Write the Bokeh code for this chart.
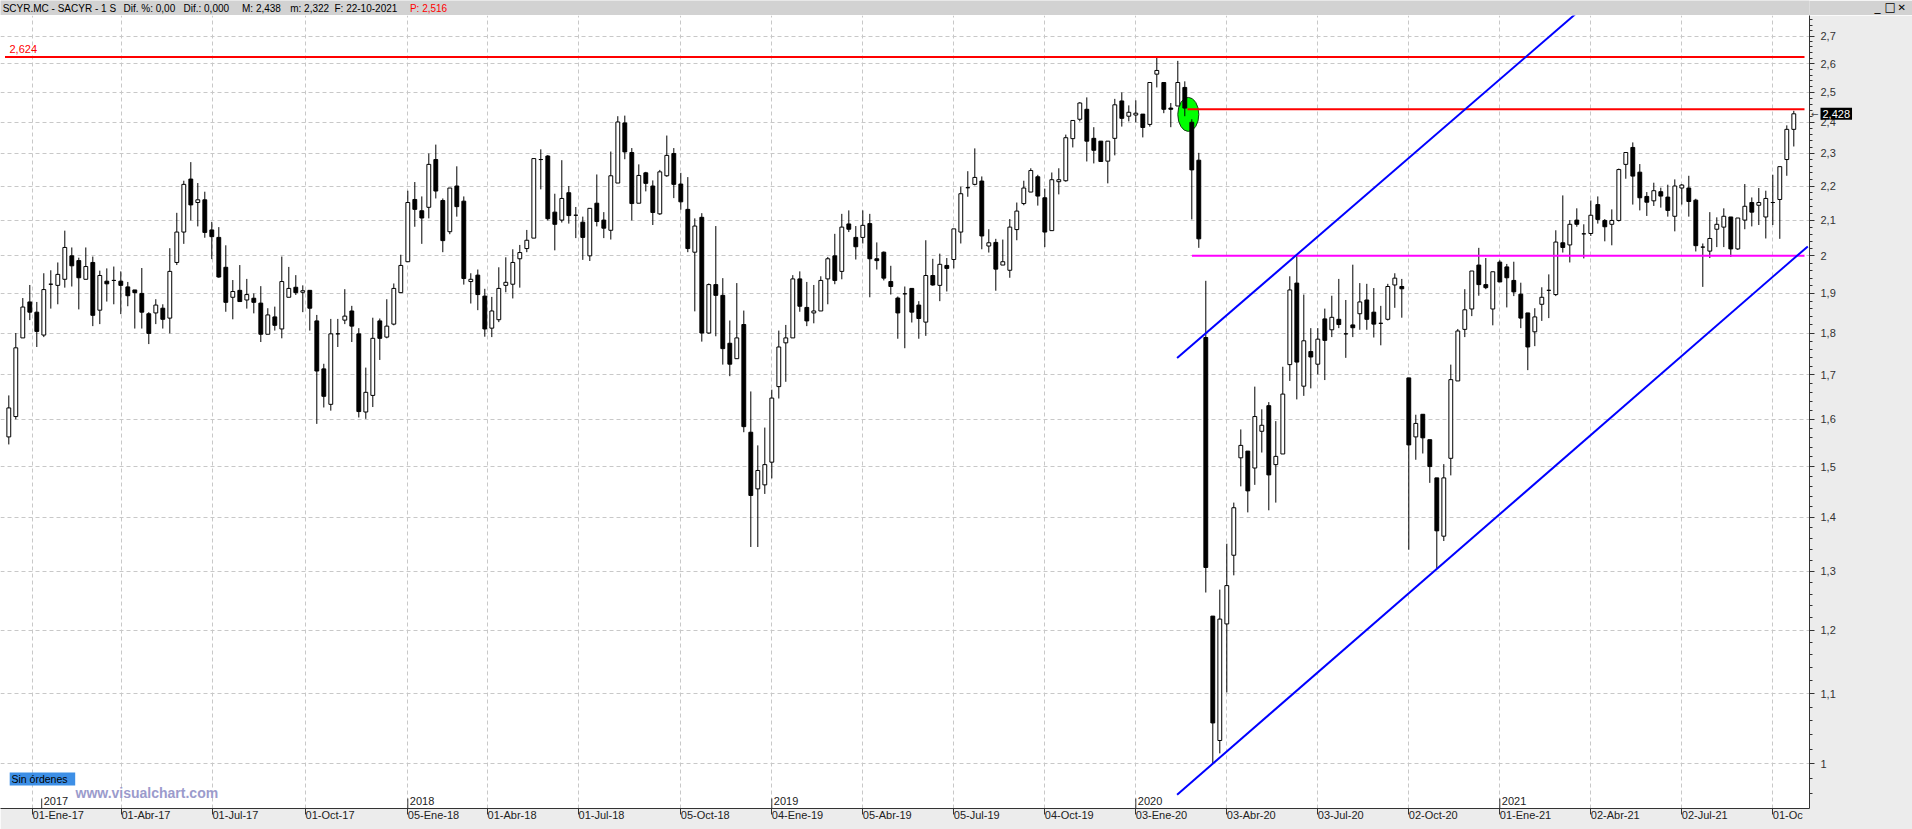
import math
from bokeh.plotting import figure
from bokeh.layouts import column
from bokeh.models import Range1d, FixedTicker, CustomJSTickFormatter, Label, ColumnDataSource
from bokeh.core.properties import value
from bokeh.embed import file_html
from bokeh.resources import INLINE

# ---------------- data (weekly candles, SACYR) ----------------
open_ = [1.562, 1.606, 1.788, 1.878, 1.852, 1.795, 1.924, 1.921, 1.937, 2.0,
         1.987, 1.937, 1.982, 1.857, 1.932, 1.934, 1.932, 1.917, 1.909, 1.90,
         1.848, 1.85, 1.862, 1.837, 1.982, 2.066, 2.221, 2.151, 2.159, 2.072,
         2.051, 1.969, 1.89, 1.908, 1.883, 1.8875, 1.875, 1.797, 1.84, 1.81,
         1.89, 1.916, 1.903, 1.908, 1.83, 1.714, 1.633, 1.798, 1.832, 1.855,
         1.798, 1.616, 1.653, 1.83, 1.79, 1.822, 1.902, 1.984, 2.16, 2.127,
         2.137, 2.281, 2.157, 2.067, 2.2, 2.155, 1.931, 1.948, 1.893, 1.812,
         1.833, 1.921, 1.924, 1.992, 2.02, 2.049, 2.281, 2.292, 2.123, 2.1,
         2.18, 2.114, 2.094, 2.0, 2.149, 2.1, 2.071, 2.209, 2.398, 2.303,
         2.149, 2.24, 2.2, 2.118, 2.231, 2.3, 2.206, 2.131, 2.01, 2.108,
         1.80, 1.923, 1.895, 1.775, 1.738, 1.821, 1.572, 1.455, 1.463, 1.509,
         1.673, 1.776, 1.788, 1.938, 1.864, 1.85, 1.855, 1.938, 2.0, 1.958,
         2.089, 2.051, 2.051, 2.09, 1.992, 2.01, 1.931, 1.888, 1.899, 1.913,
         1.87, 1.827, 1.947, 1.921, 1.974, 1.99, 2.066, 2.195, 2.205, 2.215,
         2.027, 2.037, 1.975, 1.961, 2.073, 2.148, 2.182, 2.228, 2.165, 2.07,
         2.213, 2.216, 2.347, 2.41, 2.443, 2.348, 2.339, 2.276, 2.348, 2.471,
         2.42, 2.424, 2.427, 2.393, 2.563, 2.534, 2.447, 2.454, 2.517, 2.40,
         2.279, 1.789, 1.223, 1.032, 1.21, 1.329, 1.518, 1.532, 1.497, 1.574,
         1.630, 1.504, 1.526, 1.724, 1.927, 1.674, 1.755, 1.725, 1.835, 1.808,
         1.834, 1.798, 1.82, 1.848, 1.883, 1.852, 1.824, 1.834, 1.922, 1.918,
         1.693, 1.562, 1.611, 1.556, 1.477, 1.364, 1.517, 1.686, 1.809, 1.86,
         1.975, 1.923, 1.86, 1.983, 1.97, 1.934, 1.898, 1.85, 1.803, 1.872,
         1.908, 1.897, 2.036, 2.03, 2.10, 2.061, 2.062, 2.145, 2.099, 2.088,
         2.099, 2.266, 2.319, 2.242, 2.169, 2.156, 2.183, 2.167, 2.111, 2.194,
         2.194, 2.158, 2.024, 2.013, 2.074, 2.08, 2.109, 2.019, 2.10, 2.151,
         2.143, 2.109, 2.151, 2.16, 2.281, 2.377]
high = [1.653, 1.80, 1.888, 1.922, 1.878, 1.953, 1.961, 1.982, 2.07, 2.023,
        1.995, 2.023, 1.998, 1.96, 1.966, 1.971, 1.958, 1.93, 1.909, 1.967,
        1.852, 1.885, 1.872, 2.021, 2.121, 2.216, 2.273, 2.209, 2.183, 2.095,
        2.08, 2.029, 1.935, 1.975, 1.938, 1.9, 1.919, 1.862, 1.866, 1.998,
        1.97, 1.948, 1.921, 1.908, 1.845, 1.726, 1.835, 1.835, 1.911, 1.868,
        1.812, 1.717, 1.838, 1.836, 1.885, 1.926, 2.003, 2.186, 2.212, 2.169,
        2.30, 2.328, 2.163, 2.194, 2.26, 2.169, 1.953, 1.963, 1.912, 1.891,
        1.969, 1.996, 2.018, 2.03, 2.072, 2.284, 2.313, 2.295, 2.177, 2.279,
        2.2, 2.138, 2.11, 2.134, 2.235, 2.123, 2.306, 2.42, 2.422, 2.317,
        2.266, 2.243, 2.217, 2.249, 2.357, 2.317, 2.24, 2.227, 2.105, 2.12,
        1.926, 2.083, 1.94, 1.831, 1.927, 1.856, 1.662, 1.544, 1.582, 1.666,
        1.806, 1.82, 1.948, 1.958, 1.93, 1.922, 1.945, 1.997, 2.061, 2.118,
        2.128, 2.083, 2.128, 2.118, 2.037, 2.012, 1.973, 1.892, 1.918, 1.913,
        1.88, 2.043, 1.992, 2.006, 1.994, 2.075, 2.198, 2.245, 2.316, 2.229,
        2.074, 2.047, 2.045, 2.103, 2.151, 2.216, 2.254, 2.234, 2.192, 2.241,
        2.254, 2.36, 2.406, 2.467, 2.483, 2.384, 2.339, 2.339, 2.478, 2.50,
        2.456, 2.473, 2.427, 2.534, 2.622, 2.534, 2.464, 2.61, 2.538, 2.41,
        2.302, 1.933, 1.223, 1.268, 1.35, 1.428, 1.578, 1.532, 1.673, 1.622,
        1.638, 1.596, 1.719, 1.945, 2.002, 1.897, 1.812, 1.812, 1.861, 1.894,
        1.938, 1.883, 1.976, 1.927, 1.925, 1.914, 1.868, 1.925, 1.953, 1.938,
        1.693, 1.61, 1.611, 1.556, 1.477, 1.505, 1.724, 1.81, 1.911, 1.959,
        2.022, 1.994, 1.957, 1.988, 1.978, 1.984, 1.928, 1.85, 1.862, 1.916,
        1.95, 2.071, 2.172, 2.10, 2.134, 2.088, 2.157, 2.169, 2.103, 2.131,
        2.253, 2.303, 2.335, 2.267, 2.182, 2.21, 2.195, 2.204, 2.22, 2.206,
        2.231, 2.162, 2.034, 2.123, 2.108, 2.134, 2.109, 2.106, 2.206, 2.166,
        2.194, 2.186, 2.234, 2.259, 2.39, 2.438]
low = [1.546, 1.60, 1.788, 1.832, 1.766, 1.79, 1.861, 1.872, 1.915, 1.918,
       1.859, 1.937, 1.817, 1.822, 1.879, 1.872, 1.847, 1.867, 1.811, 1.811,
       1.773, 1.822, 1.811, 1.799, 1.975, 2.033, 2.099, 2.082, 2.05, 1.991,
       1.941, 1.853, 1.834, 1.879, 1.861, 1.849, 1.778, 1.797, 1.806, 1.787,
       1.89, 1.896, 1.852, 1.806, 1.59, 1.626, 1.619, 1.766, 1.822, 1.778,
       1.604, 1.601, 1.627, 1.735, 1.787, 1.819, 1.902, 1.984, 2.081, 2.033,
       2.105, 2.163, 2.01, 2.06, 2.11, 1.923, 1.874, 1.857, 1.791, 1.79,
       1.827, 1.903, 1.887, 1.915, 2.01, 2.049, 2.19, 2.099, 2.015, 2.093,
       2.09, 2.049, 1.989, 1.986, 2.082, 2.049, 2.045, 2.209, 2.282, 2.099,
       2.149, 2.184, 2.086, 2.115, 2.228, 2.164, 2.13, 2.01, 1.854, 1.779,
       1.798, 1.792, 1.724, 1.697, 1.738, 1.572, 1.344, 1.344, 1.445, 1.476,
       1.646, 1.684, 1.788, 1.853, 1.817, 1.824, 1.855, 1.872, 1.924, 1.937,
       2.066, 1.99, 2.034, 1.89, 1.963, 1.934, 1.897, 1.786, 1.763, 1.826,
       1.786, 1.793, 1.92, 1.88, 1.905, 1.966, 2.034, 2.168, 2.202, 2.018,
       2.009, 1.907, 1.975, 1.941, 2.043, 2.143, 2.182, 2.142, 2.024, 2.07,
       2.175, 2.213, 2.319, 2.403, 2.275, 2.269, 2.275, 2.208, 2.294, 2.386,
       2.403, 2.40, 2.351, 2.386, 2.517, 2.43, 2.384, 2.454, 2.42, 2.102,
       2.022, 1.263, 1.0, 1.014, 1.102, 1.293, 1.46, 1.409, 1.463, 1.529,
       1.413, 1.428, 1.526, 1.686, 1.644, 1.652, 1.669, 1.701, 1.688, 1.79,
       1.812, 1.74, 1.79, 1.808, 1.808, 1.789, 1.77, 1.831, 1.863, 1.838,
       1.339, 1.514, 1.527, 1.467, 1.306, 1.355, 1.482, 1.686, 1.79, 1.842,
       1.894, 1.911, 1.819, 1.93, 1.864, 1.893, 1.812, 1.711, 1.768, 1.83,
       1.837, 1.893, 2.009, 1.982, 2.081, 1.993, 2.055, 2.09, 2.04, 2.029,
       2.096, 2.222, 2.145, 2.128, 2.112, 2.141, 2.136, 2.11, 2.068, 2.145,
       2.11, 2.012, 1.917, 1.994, 2.024, 2.024, 1.997, 2.016, 2.074, 2.082,
       2.086, 2.048, 2.086, 2.047, 2.231, 2.322]
close = [1.625, 1.764, 1.865, 1.852, 1.804, 1.91, 1.924, 1.95, 2.023, 1.973,
         1.941, 1.971, 1.844, 1.947, 1.925, 1.934, 1.921, 1.894, 1.902, 1.852,
         1.799, 1.87, 1.834, 1.958, 2.066, 2.205, 2.144, 2.159, 2.065, 2.053,
         1.943, 1.877, 1.905, 1.879, 1.897, 1.877, 1.797, 1.845, 1.819, 1.931,
         1.913, 1.902, 1.907, 1.862, 1.709, 1.651, 1.798, 1.798, 1.842, 1.817,
         1.617, 1.66, 1.787, 1.787, 1.817, 1.913, 1.974, 2.151, 2.131, 2.106,
         2.266, 2.185, 2.042, 2.194, 2.139, 1.939, 1.937, 1.897, 1.81, 1.855,
         1.913, 1.929, 1.982, 2.009, 2.043, 2.284, 2.281, 2.104, 2.088, 2.163,
         2.113, 2.114, 2.051, 2.134, 2.096, 2.077, 2.231, 2.401, 2.305, 2.148,
         2.232, 2.208, 2.122, 2.243, 2.294, 2.205, 2.153, 2.02, 2.083, 1.80,
         1.923, 1.895, 1.762, 1.725, 1.788, 1.584, 1.442, 1.492, 1.504, 1.647,
         1.766, 1.788, 1.938, 1.867, 1.83, 1.855, 1.934, 1.992, 1.934, 2.08,
         2.074, 2.025, 2.085, 1.992, 1.987, 1.94, 1.918, 1.85, 1.899, 1.852,
         1.836, 1.947, 1.922, 1.977, 1.966, 2.075, 2.177, 2.195, 2.226, 2.055,
         2.036, 1.964, 1.984, 2.08, 2.126, 2.194, 2.247, 2.17, 2.066, 2.219,
         2.219, 2.35, 2.406, 2.464, 2.339, 2.31, 2.275, 2.339, 2.458, 2.413,
         2.433, 2.43, 2.383, 2.534, 2.576, 2.443, 2.443, 2.534, 2.447, 2.249,
         2.047, 1.307, 1.057, 1.218, 1.275, 1.418, 1.544, 1.451, 1.606, 1.587,
         1.483, 1.521, 1.656, 1.909, 1.730, 1.781, 1.742, 1.785, 1.782, 1.839,
         1.821, 1.798, 1.813, 1.878, 1.834, 1.822, 1.824, 1.918, 1.94, 1.912,
         1.545, 1.591, 1.56, 1.50, 1.374, 1.477, 1.689, 1.805, 1.858, 1.959,
         1.923, 1.915, 1.957, 1.93, 1.941, 1.904, 1.837, 1.766, 1.84, 1.89,
         1.908, 2.038, 2.023, 2.088, 2.088, 2.061, 2.114, 2.102, 2.081, 2.099,
         2.25, 2.303, 2.23, 2.165, 2.152, 2.186, 2.17, 2.128, 2.2, 2.203,
         2.154, 2.028, 2.024, 2.048, 2.088, 2.111, 2.019, 2.106, 2.14, 2.123,
         2.151, 2.163, 2.151, 2.259, 2.377, 2.428]
week_index = list(range(len(close)))

date_tick_pos = [3.4, 16.1, 29.1, 42.4, 57, 68.4, 81.4, 96, 109, 122, 135, 148,
                 161, 174, 187, 200, 213, 226, 239, 252]
date_tick_labels = ["01-Ene-17", "01-Abr-17", "01-Jul-17", "01-Oct-17", "05-Ene-18",
                    "01-Abr-18", "01-Jul-18", "05-Oct-18", "04-Ene-19", "05-Abr-19",
                    "05-Jul-19", "04-Oct-19", "03-Ene-20", "03-Abr-20", "03-Jul-20",
                    "02-Oct-20", "01-Ene-21", "02-Abr-21", "02-Jul-21", "01-Oc"]
year_pos = [4.7, 57, 109, 161, 213]
year_labels = ["2017", "2018", "2019", "2020", "2021"]

price_ticks = [1.0, 1.1, 1.2, 1.3, 1.4, 1.5, 1.6, 1.7, 1.8, 1.9, 2.0,
               2.1, 2.2, 2.3, 2.4, 2.5, 2.6, 2.7]

# drawn analysis objects
resistance_level = 2.624
recent_high_level = 2.443
support_level = 2.0
channel_upper_x = [166.9, 232.0]
channel_upper_y = [1.7395, 2.977]
channel_lower_x = [166.9, 257.0]
channel_lower_y = [0.9584, 2.026]
marker_x = 168.5
marker_y = 2.426
last_price = 2.428

# ---------------- pixel helpers for decorations ----------------
X0_PX, BAR_PX, Y_ONE_PX, LN_PX = 8.3, 7.0, 764.0, 733.4
FRAME_RIGHT_PX = 1809
RIGHT_BORDER = 1912 - FRAME_RIGHT_PX


def xd(px):
    return (px - X0_PX) / BAR_PX


def yd(py):
    return math.exp((Y_ONE_PX - py) / LN_PX)


FONT_NAME = "Liberation Sans"
FONT = value(FONT_NAME)

# ---------------- header bar ----------------
# (the column layout aligns plot frames, so the header frame has the same right border)
HEADER_H = 15
HDR_BG = "#d2d2d2"
hdr = figure(width=1912, height=HEADER_H, x_range=Range1d(0, FRAME_RIGHT_PX),
             y_range=Range1d(HEADER_H, 0),
             output_backend="svg", toolbar_location=None, x_axis_type=None, y_axis_type=None,
             min_border_left=0, min_border_right=RIGHT_BORDER, min_border_top=0,
             min_border_bottom=0,
             background_fill_color=HDR_BG, border_fill_color=HDR_BG, outline_line_color=None)
hdr.xgrid.visible = False
hdr.ygrid.visible = False
header_texts = ["SCYR.MC - SACYR - 1 S", "Dif. %: 0,00", "Dif.: 0,000", "M: 2,438",
                "m: 2,322", "F: 22-10-2021", "P: 2,516"]
header_x = [2.2, 123, 183, 241.5, 289.7, 334, 409.4]
header_col = ["black"] * 6 + ["#ff0000"]
hdr.text(x=header_x, y=[7.5] * 7, text=header_texts, text_color=header_col,
         text_font=FONT, text_font_size="10px", text_baseline="middle", text_align="left")
# window buttons (in the side panel, so they are not clipped)
for bx, btxt, bsize in [(1874, "_", "12px"), (1884, "□", "12px"), (1897, "✕", "10px")]:
    hdr.add_layout(Label(x=bx, y=6.5, text=btxt, text_color="black", text_font="DejaVu Sans",
                         text_font_size=bsize, text_baseline="middle", text_align="left"),
                   "right")

# ---------------- main chart ----------------
FRAME_BOTTOM_PX = 809
p = figure(width=1912, height=829 - HEADER_H,
           x_range=Range1d(xd(0), xd(FRAME_RIGHT_PX)),
           y_range=Range1d(yd(FRAME_BOTTOM_PX), yd(HEADER_H)),
           y_axis_type="log", y_axis_location="right",
           output_backend="svg", toolbar_location=None,
           min_border_left=0, min_border_right=RIGHT_BORDER, min_border_top=0,
           min_border_bottom=20,
           background_fill_color="white", border_fill_color="#ececec", outline_line_color=None)

p.yaxis.ticker = FixedTicker(ticks=price_ticks,
                             minor_ticks=[round(0.94 + 0.02 * k, 2) for k in range(92)])
p.yaxis.formatter = CustomJSTickFormatter(code="""
    const v = Math.round(tick * 10) / 10;
    return v.toString().replace('.', ',');
""")
p.yaxis.major_tick_out = 5
p.yaxis.major_tick_in = 0
p.yaxis.minor_tick_out = 3
p.yaxis.minor_tick_in = 0
p.yaxis.major_label_standoff = 6
p.yaxis.axis_line_color = "#333333"
p.yaxis.major_tick_line_color = "#333333"
p.yaxis.minor_tick_line_color = "#333333"
p.yaxis.major_label_text_font = FONT_NAME
p.yaxis.major_label_text_font_size = "11px"
p.yaxis.major_label_text_color = "#333333"

p.xaxis.ticker = FixedTicker(ticks=date_tick_pos, minor_ticks=[])
p.xaxis.formatter = CustomJSTickFormatter(args=dict(pos=date_tick_pos, labels=date_tick_labels), code="""
    let best = 0, d = 1e9;
    for (let i = 0; i < pos.length; i++) {
        const dd = Math.abs(pos[i] - tick);
        if (dd < d) { d = dd; best = i; }
    }
    return labels[best];
""")
p.xaxis.major_label_orientation = -0.0001
p.xaxis.major_tick_out = 6
p.xaxis.major_tick_in = 0
p.xaxis.minor_tick_out = 0
p.xaxis.major_label_standoff = 0
p.xaxis.axis_line_color = "#333333"
p.xaxis.major_tick_line_color = "#333333"
p.xaxis.major_label_text_font = FONT_NAME
p.xaxis.major_label_text_font_size = "11px"
p.xaxis.major_label_text_color = "#222222"

for g in (p.xgrid, p.ygrid):
    g.grid_line_color = "#c8c8c8"
    g.grid_line_dash = "4 3"
    g.grid_line_width = 1

# highlight marker (under candles)
p.ellipse(x=[marker_x], y=[marker_y], width=21, height=34, width_units="screen",
          height_units="screen", fill_color="#00ff00", line_color="#1a3a1a", line_width=1)

# candles
src = ColumnDataSource(dict(
    x=week_index, low=low, high=high,
    top=[max(o, c) for o, c in zip(open_, close)],
    bottom=[min(o, c) for o, c in zip(open_, close)],
    fill=["white" if c >= o else "black" for o, c in zip(open_, close)],
))
p.segment(x0="x", y0="low", x1="x", y1="high", source=src, line_color="black", line_width=1)
p.vbar(x="x", top="top", bottom="bottom", width=0.55, fill_color="fill",
       line_color="black", line_width=1, source=src)

# horizontal levels
END_X = xd(1804)
p.line([xd(4.5), END_X], [resistance_level] * 2, line_color="#ff0000", line_width=2)
p.line([xd(1187), END_X], [recent_high_level] * 2, line_color="#ff0000", line_width=2)
p.line([xd(1191.5), END_X], [support_level] * 2, line_color="#ff00ff", line_width=2)
# channel
p.line(channel_upper_x, channel_upper_y, line_color="#0000ff", line_width=2)
p.line(channel_lower_x, channel_lower_y, line_color="#0000ff", line_width=2)

p.text(x=[xd(9)], y=[resistance_level], text=["2,624"], text_color="#ff0000",
       text_font=FONT, text_font_size="11px", text_baseline="middle", text_align="left",
       y_offset=-8)

# year markers above the time axis
p.segment(x0=year_pos, y0=[yd(FRAME_BOTTOM_PX)] * 5, x1=year_pos, y1=[yd(799)] * 5,
          line_color="#333333", line_width=1)
p.text(x=year_pos, y=[yd(801)] * 5, text=year_labels, x_offset=2, text_color="#222222",
       text_font=FONT, text_font_size="11px", text_baseline="middle", text_align="left")

# bottom-left decorations
p.quad(left=[xd(9.2)], right=[xd(74.7)], top=[yd(773)], bottom=[yd(786)],
       fill_color="#3d8fe6", line_color=None)
p.text(x=[xd(11)], y=[yd(779.5)], text=["Sin órdenes"], text_color="black",
       text_font=FONT, text_font_size="10.5px", text_baseline="middle", text_align="left")
p.text(x=[xd(75)], y=[yd(793)], text=["www.visualchart.com"], text_color="#9b9bcc",
       text_font=FONT, text_font_size="14px", text_font_style="bold",
       text_baseline="middle", text_align="left")

# last price tag on the price scale (placed in the side panel so it is not clipped)
p.add_layout(Label(x=xd(1820), y=last_price, text="2,428", text_color="white",
                   background_fill_color="black", text_font=FONT_NAME, text_font_size="11px",
                   text_baseline="middle", text_align="left", padding=2), "right")
p.add_layout(Label(x=xd(1810.5), y=last_price, text="←", text_color="#444444",
                   text_font="DejaVu Sans", text_font_size="9px",
                   text_baseline="middle", text_align="left"), "right")

layout = column(hdr, p, spacing=0)
open("out.html", "w").write(file_html(layout, INLINE))
